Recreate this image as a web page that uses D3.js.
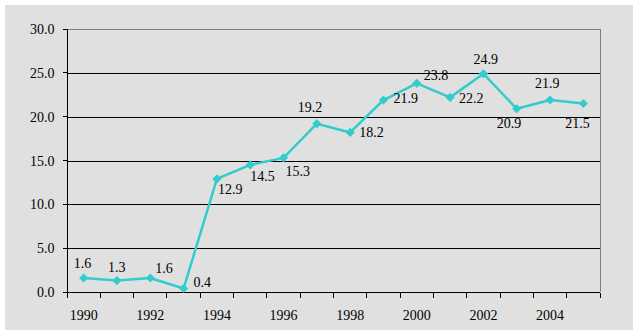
<!DOCTYPE html>
<html>
<head>
<meta charset="utf-8">
<script src="https://cdn.jsdelivr.net/npm/d3@7"></script>
<style>
  html, body { margin: 0; padding: 0; background: #ffffff; }
  svg { display: block; }
  text { font-family: "Liberation Serif", "Times New Roman", serif; font-size: 14px; fill: #000; }
</style>
</head>
<body>
<svg id="chart" width="639" height="335"></svg>
<script>
// Annual series, 1990–2005
const years = [1990, 1991, 1992, 1993, 1994, 1995, 1996, 1997, 1998, 1999, 2000, 2001, 2002, 2003, 2004, 2005];
const values = [1.6, 1.3, 1.6, 0.4, 12.9, 14.5, 15.3, 19.2, 18.2, 21.9, 23.8, 22.2, 24.9, 20.9, 21.9, 21.5];
const yTicks = [0, 5, 10, 15, 20, 25, 30];
const xLabelYears = [1990, 1992, 1994, 1996, 1998, 2000, 2002, 2004];

// Where each value label sits relative to its marker (left edge, baseline)
const labelNudge = [
  [-10, -10], [-9, -9], [5, -5], [10, -1],
  [1, 15], [0, 16], [2, 18], [-19, -12],
  [9, 5], [10, 3], [7, -3], [9, 6],
  [-10, -10], [-20, 19], [-15, -12], [-18, 24]
];

const svg = d3.select("#chart");
const plot = { left: 67, right: 600, top: 29, bottom: 292 };

// Grey panel behind everything
svg.append("rect")
  .attr("x", 5).attr("y", 5)
  .attr("width", 628).attr("height", 325)
  .attr("fill", "#e0e0e0");

const x = d3.scaleBand().domain(years).range([plot.left, plot.right]).padding(0);
const xEdge = d3.scaleLinear().domain([0, years.length]).range([plot.left, plot.right]);
const y = d3.scaleLinear().domain([0, 30]).range([plot.bottom, plot.top]);
const cx = d => x(d) + x.bandwidth() / 2;

// Horizontal gridlines
svg.append("g")
  .selectAll("line")
  .data(yTicks.filter(t => t > 0 && t < 30))
  .join("line")
  .attr("x1", plot.left).attr("x2", plot.right)
  .attr("y1", d => Math.round(y(d)) + 0.5).attr("y2", d => Math.round(y(d)) + 0.5)
  .attr("stroke", "#000").attr("stroke-width", 1)
  .attr("shape-rendering", "crispEdges");

// Plot frame: grey top and right edges
svg.append("path")
  .attr("d", `M${plot.left},${Math.round(y(30)) + 0.5}H${plot.right + 0.5}V${plot.bottom}`)
  .attr("fill", "none").attr("stroke", "#808080").attr("stroke-width", 1)
  .attr("shape-rendering", "crispEdges");

// Y axis
const yAxis = svg.append("g")
  .attr("transform", `translate(${plot.left + 0.5},0)`)
  .call(d3.axisLeft(y).tickValues(yTicks).tickFormat(d3.format(".1f")).tickSize(5).tickPadding(8).offset(0));
yAxis.select(".domain").attr("stroke", "#000").attr("shape-rendering", "crispEdges");
yAxis.selectAll(".tick line").attr("stroke", "#000").attr("shape-rendering", "crispEdges");
yAxis.selectAll("text").attr("font-family", null).attr("font-size", null).attr("dy", "0.36em");

// X axis: ticks between categories
const xTickAxis = svg.append("g")
  .attr("transform", `translate(0,${plot.bottom + 0.5})`)
  .call(d3.axisBottom(xEdge).tickValues(d3.range(years.length + 1)).tickFormat("").tickSize(5).tickSizeOuter(0).offset(0));
xTickAxis.select(".domain").attr("stroke", "#000").attr("shape-rendering", "crispEdges");
xTickAxis.selectAll(".tick line").attr("stroke", "#000").attr("shape-rendering", "crispEdges");

// X axis labels at category centres
const xLabelAxis = svg.append("g")
  .attr("transform", `translate(0,${plot.bottom})`)
  .call(d3.axisBottom(x).tickValues(xLabelYears).tickSize(0).tickPadding(18).offset(0));
xLabelAxis.select(".domain").remove();
xLabelAxis.selectAll("text").attr("font-family", null).attr("font-size", null);

// Series line
const line = d3.line().x((d, i) => cx(years[i])).y(d => y(d));
svg.append("path")
  .datum(values)
  .attr("d", line)
  .attr("fill", "none")
  .attr("stroke", "#33cccc")
  .attr("stroke-width", 2.5)
  .attr("stroke-linejoin", "round");

// Diamond markers
svg.append("g")
  .selectAll("path")
  .data(values)
  .join("path")
  .attr("d", d3.symbol().type(d3.symbolSquare).size(42))
  .attr("transform", (d, i) => `translate(${cx(years[i])},${y(d)}) rotate(45)`)
  .attr("fill", "#33cccc");

// Value labels
svg.append("g")
  .selectAll("text")
  .data(values)
  .join("text")
  .attr("x", (d, i) => cx(years[i]) + labelNudge[i][0])
  .attr("y", (d, i) => y(d) + labelNudge[i][1])
  .text(d => d.toFixed(1));
</script>
</body>
</html>
